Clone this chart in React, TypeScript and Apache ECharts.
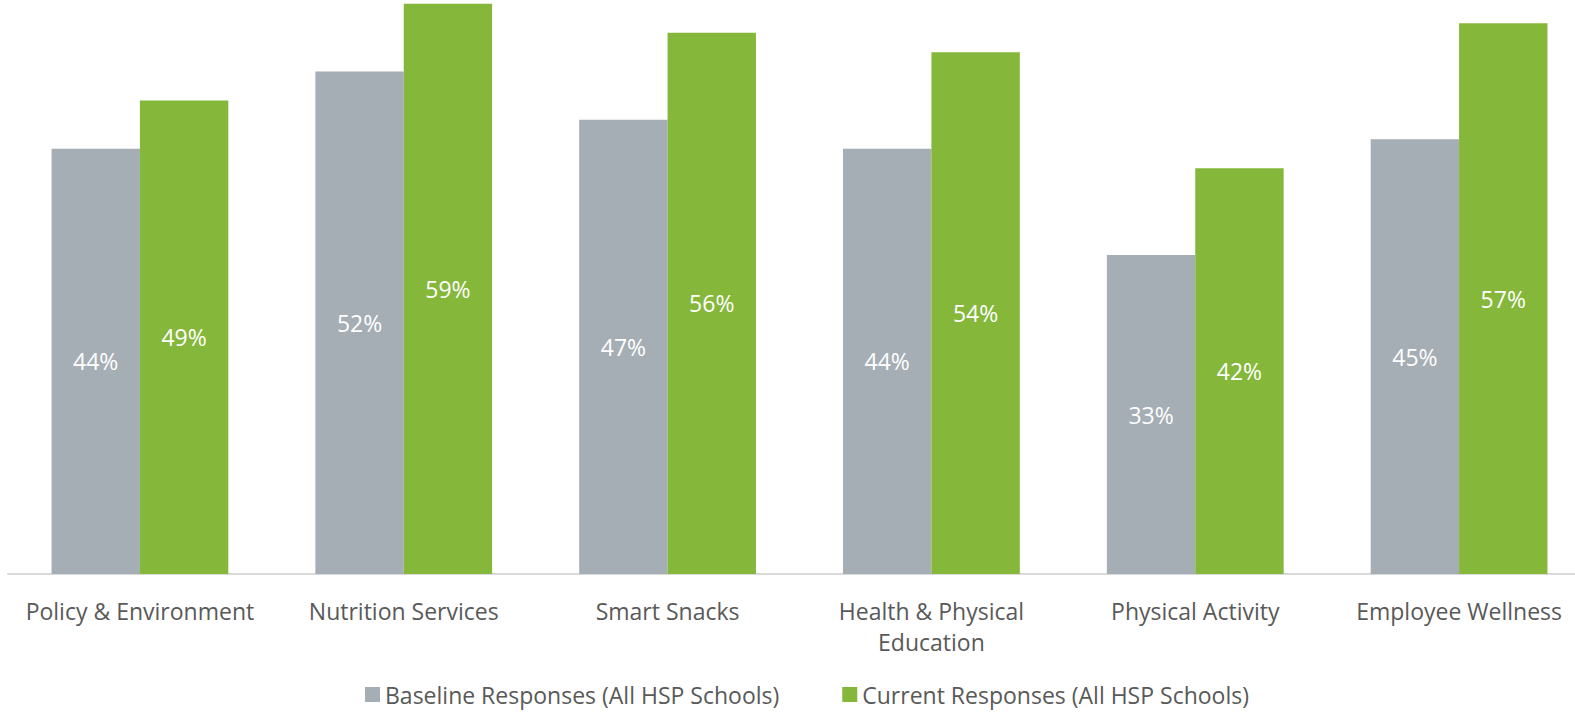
import React, { useEffect, useRef } from "react";
import * as echarts from "echarts";

const categories = [
  "Policy & Environment",
  "Nutrition Services",
  "Smart Snacks",
  "Health & Physical\nEducation",
  "Physical Activity",
  "Employee Wellness",
];
const baselineName = "Baseline Responses (All HSP Schools)";
const currentName = "Current Responses (All HSP Schools)";
const baselineValues = [44, 52, 47, 44, 33, 45];
const currentValues = [49, 59, 56, 54, 42, 57];

const FONT = "'Open Sans', 'Noto Sans', sans-serif";

export default function App() {
  const ref = useRef<HTMLDivElement>(null);
  useEffect(() => {
    if (!ref.current) return;
    const chart = echarts.init(ref.current, undefined, { renderer: "svg" });
    const labelStyle = {
      show: true,
      position: "inside",
      color: "#ffffff",
      fontFamily: FONT,
      fontSize: 23,
      formatter: (p: any) => `${p.value}%`,
    };
    chart.setOption({
      animation: false,
      textStyle: { fontFamily: FONT },
      grid: { left: 8, top: 0, width: 1583, height: 574, containLabel: false },
      legend: {
        left: 360,
        top: 678,
        itemWidth: 15,
        itemHeight: 15,
        itemGap: 63,
        icon: "rect",
        textStyle: { color: "#595959", fontSize: 23, fontFamily: FONT },
        data: [baselineName, currentName],
      },
      xAxis: {
        type: "category",
        data: categories,
        axisLine: { lineStyle: { color: "#d9d9d9", width: 2 } },
        axisTick: { show: false },
        axisLabel: {
          color: "#595959",
          fontSize: 23,
          fontFamily: FONT,
          margin: 21,
          lineHeight: 31,
          interval: 0,
        },
      },
      yAxis: {
        type: "value",
        min: 0,
        max: 59.4,
        show: false,
        splitLine: { show: false },
      },
      series: [
        {
          name: baselineName,
          type: "bar",
          data: baselineValues,
          barGap: "0%",
          barCategoryGap: "33%",
          itemStyle: { color: "#a5aeb4" },
          label: labelStyle,
        },
        {
          name: currentName,
          type: "bar",
          data: currentValues,
          barGap: "0%",
          barCategoryGap: "33%",
          itemStyle: { color: "#84b73a" },
          label: labelStyle,
        },
      ],
    });
    return () => chart.dispose();
  }, []);
  return (
    <div style={{ position: "absolute", left: 0, top: 0, width: 1575, height: 714, overflow: "hidden" }}>
      <div ref={ref} style={{ width: 1600, height: 714 }} />
    </div>
  );
}
